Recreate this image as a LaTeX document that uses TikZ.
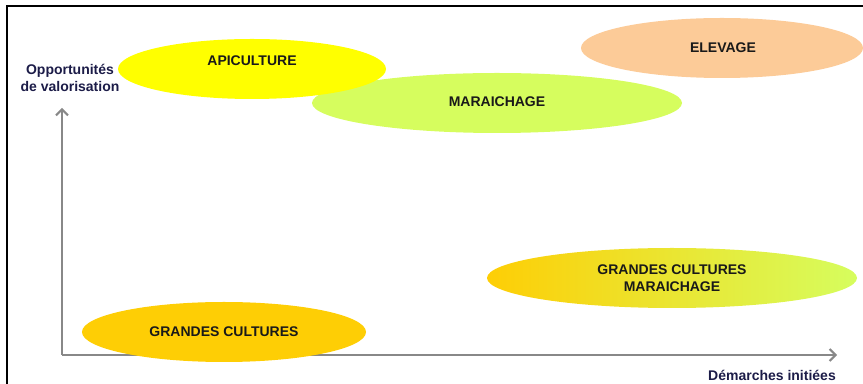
\documentclass[tikz,border=0pt]{standalone}
\usepackage{fontspec}
\setmainfont{Liberation Sans}
\usetikzlibrary{arrows.meta}
\tikzset{
  lbl/.style={font=\fontsize{7}{8.4}\selectfont\bfseries,text=black!90,align=center,inner sep=0pt},
  axislbl/.style={font=\fontsize{7}{8.6}\selectfont\bfseries,text=color5,align=center,inner sep=0pt},
  axis/.style={color4,line width=1pt,-{Straight Barb[length=3pt,width=6pt]}}
}
\begin{document}
\begin{tikzpicture}[x=0.5pt,y=-0.5pt]
\definecolor{color0}{HTML}{FFFF00}
\definecolor{color1}{HTML}{D6FD5E}
\definecolor{color2}{HTML}{FCCB98}
\definecolor{color3}{HTML}{FECE05}
\definecolor{color4}{HTML}{888888}
\definecolor{color5}{HTML}{1C1C48}
\useasboundingbox (0,0) rectangle (863,384);
% frame
\draw[black,line width=1pt] (7,384) -- (7,6) -- (863,6);
% axes
\coordinate (origin) at (62,355);
\coordinate (ytip) at (62,108);
\coordinate (xtip) at (837,355);
\draw[axis] (origin) -- (ytip);
\draw[axis] (origin) -- (xtip);
% ellipses
\fill[color1] (497,103) ellipse [x radius=185,y radius=30];
\fill[color0] (252,69) ellipse [x radius=134,y radius=30];
\fill[color2] (722,48) ellipse [x radius=141,y radius=30];
\shade[left color=color3,right color=color1] (672,278) ellipse [x radius=185,y radius=30];
\fill[color3] (224,332) ellipse [x radius=142,y radius=30];
% labels
\node[lbl] (api) at (252,61) {APICULTURE};
\node[lbl] (mar) at (497,102) {MARAICHAGE};
\node[lbl] (elev) at (723,48) {ELEVAGE};
\node[lbl] (gcmar) at (672,278) {GRANDES CULTURES\\MARAICHAGE};
\node[lbl] (gc) at (224,332) {GRANDES CULTURES};
\node[axislbl] (ylbl) at (70,78) {Opportunités\\de valorisation};
\node[axislbl] (xlbl) at (772,375) {Démarches initiées};
\end{tikzpicture}
\end{document}
